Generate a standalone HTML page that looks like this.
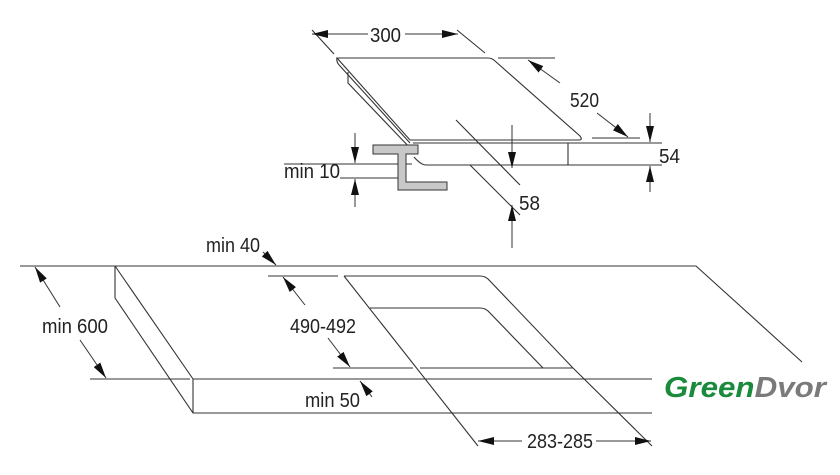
<!DOCTYPE html>
<html><head><meta charset="utf-8"><style>
html,body{margin:0;padding:0;background:#fff;width:840px;height:475px;overflow:hidden}
svg{display:block}
text{font-family:"Liberation Sans Narrow","Liberation Sans",sans-serif;font-size:20px;fill:#222}
</style></head><body>
<svg width="840" height="475" viewBox="0 0 840 475" xmlns="http://www.w3.org/2000/svg">
<defs>
<marker id="a" viewBox="0 0 16 8" refX="16" refY="4" markerWidth="16" markerHeight="8" markerUnits="userSpaceOnUse" orient="auto">
<path d="M0,0 L16,4 L0,8 Z" fill="#111"/></marker>
</defs>
<g stroke="#333" stroke-width="1.1" fill="none">
<path d="M115,266 L696,266 L802,362"/>
<path d="M115,266 L193,379 L652,379"/>
<path d="M115,266 L115,298 L193,413 L652,413"/>
<path d="M193,379 L193,413"/>
<path d="M344,276 L480,276 Q486,276 490,281 L573,368"/>
<path d="M370,308 L480,308 Q486,308 490,313 L543,368"/>
<path d="M344,276 L478,446"/>
<path d="M420,368 L573,368"/>
<path d="M573,368 L652,446"/>
<path d="M20,266 L115,266 M90,379 L190,379 M268,276 L338,276 M333,368 L413,368"/>
<path d="M337,58 L488,58 Q492,58 495,61 L580,136 Q583,140 579,140 L410,140 Z"/>
<path d="M337,58 Q336,62 340,66 L410,143"/>
<path d="M348,72 L348,83 L412,150"/>
<path d="M413,143 L568,143 L568,165 L426,165 Q421,165 414,157"/>
<path d="M312,30 L334,54 M457,30 L485,53"/>
<path d="M498,58 L555,58 M592,138 L640,138"/>
<path d="M568,143 L662,143 M568,165 L662,165"/>
<path d="M284,164 L412,164 M340,178 L398,178"/>
<path d="M456,120 L520,185 M470,165 L520,215"/>
</g>
<g stroke="#333" stroke-width="1" fill="none" marker-end="url(#a)">
<path d="M60,307 L35,267"/><path d="M80,340 L106,378"/>
<path d="M305,305 L283,277"/><path d="M328,338 L350,367"/>
<path d="M263,252 L276,265"/><path d="M372,397 L360,381"/>
<path d="M522,441 L478,441"/><path d="M596,441 L651,441"/>
<path d="M368,34 L312,34"/><path d="M405,34 L458,34"/>
<path d="M560,83 L528,60"/><path d="M597,113 L628,137"/>
<path d="M650,113 L650,142"/><path d="M650,192 L650,166"/>
<path d="M355,133 L355,163"/><path d="M355,207 L355,179"/>
<path d="M512,125 L512,168"/><path d="M512,248 L512,205"/>
</g>
<path d="M373,145 L418,145 L418,154 L406,154 L406,182 L447,182 L447,190 L398,190 L398,154 L373,154 Z" fill="#c8c8c8" stroke="#333" stroke-width="1"/>
<g lengthAdjust="spacingAndGlyphs">
<text x="42" y="333" textLength="66" lengthAdjust="spacingAndGlyphs">min 600</text>
<text x="290" y="333" textLength="66" lengthAdjust="spacingAndGlyphs">490-492</text>
<text x="206" y="252" textLength="54" lengthAdjust="spacingAndGlyphs">min 40</text>
<text x="305" y="407" textLength="55" lengthAdjust="spacingAndGlyphs">min 50</text>
<text x="527" y="448" textLength="66" lengthAdjust="spacingAndGlyphs">283-285</text>
<text x="370" y="42" textLength="31" lengthAdjust="spacingAndGlyphs">300</text>
<text x="570" y="107" textLength="29" lengthAdjust="spacingAndGlyphs">520</text>
<text x="659" y="163" textLength="21" lengthAdjust="spacingAndGlyphs">54</text>
<text x="284" y="178" textLength="56" lengthAdjust="spacingAndGlyphs">min 10</text>
<text x="519" y="210" textLength="21" lengthAdjust="spacingAndGlyphs">58</text>
</g>
<text x="664" y="397" textLength="162" lengthAdjust="spacingAndGlyphs" style="font-family:'Liberation Sans',sans-serif;font-size:29px;font-style:italic;font-weight:bold"><tspan fill="#1a8a3c">Green</tspan><tspan fill="#7a7a7a">Dvor</tspan></text>
</svg>
</body></html>
